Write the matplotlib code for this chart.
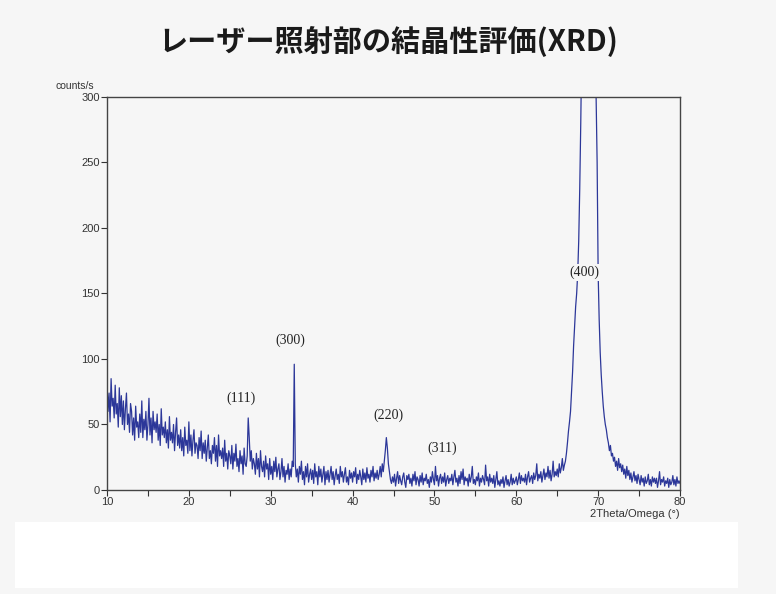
import matplotlib.pyplot as plt
import numpy as np
from matplotlib.patches import Rectangle

# 2theta grid: 10..80 deg, 0.125 deg step
two_theta = np.arange(10.0, 80.001, 0.125)

# counts/s, 8 values per degree
counts = [
    82, 60, 74, 52, 85, 64, 70, 55,   # 10
    80, 58, 66, 48, 78, 56, 72, 50,   # 11
    68, 46, 62, 74, 50, 58, 44, 66,   # 12
    60, 42, 55, 38, 64, 48, 52, 40,   # 13
    58, 44, 68, 40, 54, 46, 60, 38,   # 14
    50, 70, 42, 55, 36, 60, 46, 52,   # 15
    44, 58, 38, 50, 34, 62, 42, 48,   # 16
    40, 52, 36, 46, 32, 56, 38, 44,   # 17
    36, 50, 30, 44, 55, 34, 42, 32,   # 18
    46, 30, 40, 26, 48, 34, 38, 28,   # 19
    52, 30, 42, 26, 38, 46, 28, 36,   # 20
    34, 24, 40, 30, 45, 24, 36, 28,   # 21
    38, 22, 32, 42, 24, 30, 20, 34,   # 22
    28, 40, 22, 34, 18, 42, 26, 30,   # 23
    24, 32, 18, 38, 22, 28, 16, 30,   # 24
    26, 20, 34, 16, 28, 22, 35, 18,   # 25
    24, 14, 30, 20, 26, 12, 32, 20,   # 26
    18, 26, 55, 40, 22, 30, 16, 24,   # 27  (111)
    20, 12, 28, 16, 24, 10, 30, 18,   # 28
    14, 22, 10, 26, 16, 20, 8, 24,    # 29
    12, 18, 8, 22, 14, 25, 10, 16,    # 30
    20, 8, 14, 24, 10, 18, 6, 15,     # 31
    12, 20, 8, 16, 10, 22, 18, 96,    # 32  (300)
    20, 10, 16, 6, 18, 12, 22, 8,     # 33
    14, 4, 18, 10, 20, 6, 12, 16,     # 34
    8, 15, 5, 20, 10, 14, 4, 18,      # 35
    10, 16, 6, 12, 18, 4, 14, 8,      # 36
    15, 6, 12, 18, 8, 14, 4, 11,      # 37
    16, 8, 12, 5, 18, 10, 14, 6,      # 38
    12, 17, 6, 10, 4, 15, 9, 13,      # 39
    6, 14, 10, 17, 5, 12, 8, 15,      # 40
    10, 4, 16, 8, 13, 6, 17, 9,       # 41
    12, 6, 15, 10, 18, 7, 13, 9,      # 42
    15, 8, 12, 18, 10, 20, 14, 22,    # 43
    30, 40, 32, 20, 14, 8, 5, 10,     # 44  (220)
    6, 12, 3, 9, 14, 5, 11, 7,        # 45
    4, 10, 13, 6, 2, 11, 8, 12,       # 46
    5, 9, 3, 12, 7, 14, 4, 10,        # 47
    8, 3, 11, 6, 13, 4, 9, 7,         # 48
    12, 5, 8, 2, 10, 6, 14, 8,        # 49
    4, 18, 7, 11, 3, 9, 12, 5,        # 50  (311)
    10, 6, 13, 3, 8, 11, 5, 9,        # 51
    7, 12, 4, 10, 15, 6, 9, 3,        # 52
    11, 5, 14, 8, 16, 4, 10, 7,       # 53
    9, 3, 12, 6, 10, 18, 5, 8,        # 54
    4, 10, 7, 13, 3, 9, 6, 11,        # 55
    8, 4, 19, 7, 10, 3, 12, 6,        # 56
    9, 5, 11, 2, 8, 14, 4, 7,         # 57
    3, 8, 5, 10, 2, 7, 11, 4,         # 58
    8, 3, 6, 12, 4, 9, 5, 7,          # 59
    10, 4, 8, 13, 5, 11, 7, 9,        # 60
    6, 12, 4, 10, 14, 6, 9, 11,       # 61
    5, 13, 8, 11, 20, 7, 12, 9,       # 62
    14, 6, 11, 16, 8, 13, 10, 18,     # 63
    9, 15, 7, 12, 22, 10, 14, 11,     # 64
    16, 10, 20, 13, 17, 24, 15, 19,   # 65
    22, 28, 36, 45, 52, 60, 75, 90,   # 66
    110, 125, 140, 150, 165, 190, 230, 280,  # 67
    340, 420, 500, 560, 600, 610, 590, 560,  # 68  (400)
    520, 480, 440, 400, 360, 330, 300, 250,  # 69
    165, 130, 105, 88, 75, 64, 56, 50,       # 70
    46, 40, 36, 30, 34, 26, 28, 22,          # 71
    25, 18, 22, 15, 24, 17, 20, 14,   # 72
    19, 12, 16, 9, 18, 11, 15, 8,     # 73
    13, 6, 10, 14, 7, 11, 5, 12,      # 74
    8, 4, 11, 6, 9, 3, 10, 5,         # 75
    7, 12, 4, 8, 3, 10, 6, 9,         # 76
    5, 9, 2, 7, 14, 4, 8, 6,          # 77
    10, 3, 7, 5, 9, 2, 8, 4,          # 78
    6, 11, 4, 8, 3, 10, 5, 7,         # 79
    5,                                # 80
]

peak_labels = ["(111)", "(300)", "(220)", "(311)", "(400)"]
label_x = [26.4, 32.4, 44.4, 51.0, 68.3]
label_y = [70, 114, 57, 32, 166]

bg = "#f6f6f6"
line_color = "#2c3799"

fig = plt.figure(figsize=(7.76, 5.94), dpi=100, facecolor=bg)
ax = fig.add_axes([0.1379, 0.1751, 0.7384, 0.6616], facecolor=bg)

ax.plot(two_theta, counts, color=line_color, linewidth=0.9)
ax.set_xlim(10, 80)
ax.set_ylim(0, 300)

ax.set_xticks(np.arange(10, 81, 10))
ax.set_xticks(np.arange(15, 80, 10), minor=True)
ax.set_yticks(np.arange(0, 301, 50))
ax.tick_params(axis="both", which="both", direction="out", length=4,
               width=0.8, color="#333333", labelsize=8, labelcolor="#333333",
               pad=1)
for lbl in ax.get_xticklabels() + ax.get_yticklabels():
    lbl.set_family("Liberation Sans")
for sp in ax.spines.values():
    sp.set_color("#444444")
    sp.set_linewidth(1.0)

for txt, x, y in zip(peak_labels, label_x, label_y):
    ax.text(x, y, txt, ha="center", va="center", fontsize=10,
            family="Liberation Serif", color="#222222",
            bbox=dict(facecolor=bg, edgecolor="none", pad=1.5))

fig.text(55 / 776, 1 - 86 / 594, "counts/s", ha="left", va="center",
         fontsize=7.5, family="Liberation Sans", color="#333333")
fig.text(680 / 776, 1 - 514 / 594, "2Theta/Omega (°)", ha="right", va="center",
         fontsize=8, family="Liberation Sans", color="#333333")

fig.text(0.5, 1 - 42 / 594, "レーザー照射部の結晶性評価(XRD)", ha="center",
         va="center", fontsize=21, fontweight="bold",
         family=["Noto Sans CJK JP", "DejaVu Sans"], color="#1a1a1a")

# blank white box under the chart
fig.add_artist(Rectangle((15 / 776, 1 - 588 / 594), 723 / 776, 66 / 594,
                         transform=fig.transFigure, facecolor="white",
                         edgecolor="none"))

fig.savefig("out.png", dpi=100, facecolor=bg)
